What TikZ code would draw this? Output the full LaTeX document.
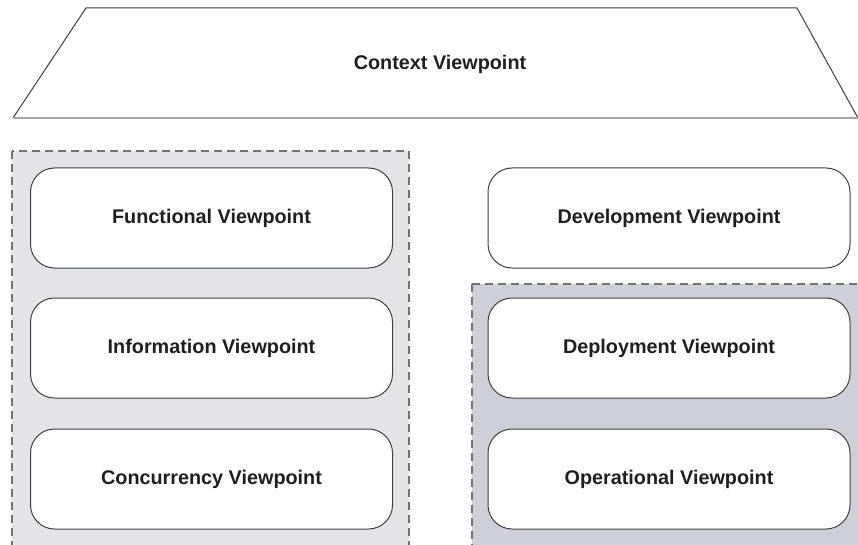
\documentclass[tikz,border=0pt]{standalone}
\usepackage{fontspec}
\setmainfont{Liberation Sans}
\definecolor{grpA}{RGB}{227,228,232}
\definecolor{grpB}{RGB}{205,208,214}
\begin{document}
\begin{tikzpicture}[x=1pt,y=-1pt,
  vpfont/.style={font=\fontsize{19.8}{22}\selectfont\bfseries,text=black!88},
  vp/.style={vpfont,draw=black!75,line width=1pt,fill=white,rounded corners=24pt,minimum width=362pt,minimum height=100pt},
  grp/.style={draw=black!55,dashed,dash pattern=on 8pt off 5pt,line width=1.2pt}]
\useasboundingbox (0,0) rectangle (858,545);
\fill[white] (0,0) rectangle (858,545);
% context trapezoid
\coordinate (tl) at (86,8);
\coordinate (tr) at (797,8);
\coordinate (br) at (858,118);
\coordinate (bl) at (13,118);
\draw[black!75,line width=1pt] (bl) -- (tl) -- (tr) -- (br);
\draw[black!35,line width=1.5pt] (bl) -- (br);
\node[vpfont] (ctx) at (440,64) {Context Viewpoint};
% groups
\draw[grp,fill=grpA] (12,151) rectangle (409,548);
\draw[grp,fill=grpB] (472,284) rectangle (862,548);
% left column
\node[vp] (fun) at (211.5,218) {Functional Viewpoint};
\node[vp] (inf) at (211.5,348) {Information Viewpoint};
\node[vp] (con) at (211.5,479) {Concurrency Viewpoint};
% right column
\node[vp] (dev) at (669,218) {Development Viewpoint};
\node[vp] (dep) at (669,348) {Deployment Viewpoint};
\node[vp] (ope) at (669,479) {Operational Viewpoint};
\end{tikzpicture}
\end{document}
